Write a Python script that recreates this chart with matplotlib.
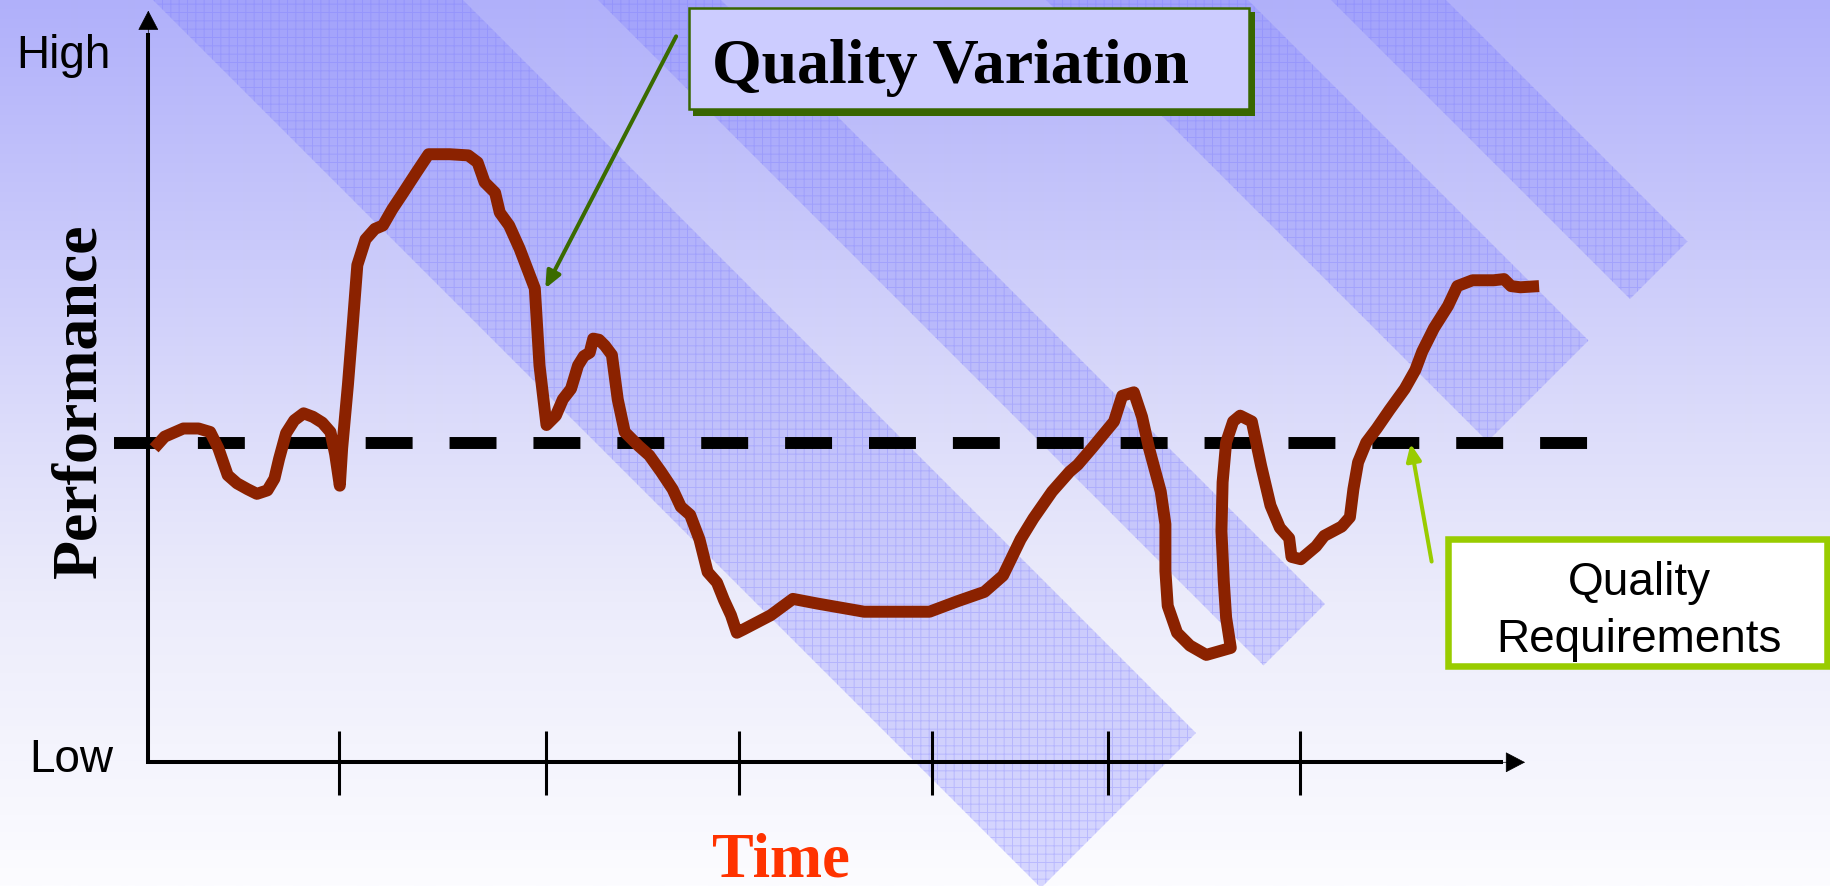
import numpy as np
import matplotlib
matplotlib.use("Agg")
import matplotlib.pyplot as plt
from matplotlib.patches import Polygon, Rectangle

plt.rcParams.update({
    "lines.scale_dashes": False,
    "hatch.linewidth": 0.7,
})

# ----------------------------------------------------------------
# Data: performance over time (chart units, origin at the axes corner)
# ----------------------------------------------------------------
time = [5, 14, 30, 43, 53, 60, 68, 76, 85, 93, 102, 108, 112, 118, 125, 133,
        141, 149, 156, 160, 164, 166, 171, 175, 179, 186, 194, 201, 209, 217,
        230, 240, 258, 274, 282, 288, 297, 301, 309, 318, 328, 331, 335, 341,
        349, 355, 362, 368, 373, 378, 381, 386, 391, 397, 402, 408, 420, 429,
        439, 449, 456, 464, 472, 479, 487, 493, 499, 504, 510, 533, 552, 573,
        613, 644, 669, 693, 716, 732, 747, 758, 774, 789, 796, 808, 827, 834,
        844, 851, 857, 867, 871, 871, 873, 881, 892, 906, 927, 923, 921, 919,
        920, 923, 929, 935, 945, 953, 961, 969, 977, 979, 987, 1000, 1007, 1022,
        1029, 1032, 1036, 1043, 1052, 1063, 1076, 1085, 1091, 1101, 1113, 1121,
        1134, 1152, 1161, 1167, 1175, 1191]
performance = [269, 279, 286, 286, 283, 269, 246, 239, 234, 230, 233, 243, 260,
               282, 293, 299, 296, 291, 283, 264, 237, 269, 324, 374, 426, 448,
               457, 460, 474, 486, 506, 521, 521, 520, 514, 497, 488, 471, 460,
               440, 414, 406, 340, 289, 297, 311, 320, 340, 348, 351, 363, 362,
               357, 349, 311, 283, 271, 263, 249, 234, 219, 212, 191, 163, 154,
               139, 126, 111, 114, 126, 140, 136, 129, 129, 129, 138, 146, 160,
               191, 209, 232, 249, 255, 269, 292, 314, 317, 296, 269, 232, 204,
               164, 134, 111, 100, 92, 98, 124, 155, 198, 240, 274, 292, 297,
               292, 254, 220, 201, 192, 176, 174, 185, 194, 202, 210, 234, 257,
               274, 286, 302, 320, 336, 352, 372, 391, 408, 413, 413, 414, 408,
               407, 408]

requirement_level = 274
requirement_span = [-29, 1238]
tick_times = [163, 341, 506, 671, 822, 986]

variation_target = (340, 406)
requirement_target = (1081, 273)

# ----------------------------------------------------------------
# Figure and slide background
# ----------------------------------------------------------------
W, H = 1831, 887
fig = plt.figure(figsize=(W / 100, H / 100), dpi=100)

bg = fig.add_axes([0, 0, 1, 1])
bg.set_xlim(0, W)
bg.set_ylim(H, 0)
bg.axis("off")

rows = np.linspace(0, 1, H)
rg = np.interp(rows, [0, 0.5, 0.68, 1.0], [176, 222, 236, 252])
bl = np.interp(rows, [0, 0.5, 0.68, 1.0], [250, 250, 251, 255])
grad = np.stack([rg, rg, bl], axis=-1)[:, None, :] / 255.0
bg.imshow(grad, extent=(0, W, H, 0), aspect="auto", interpolation="bilinear")

# diagonal decorative bands (x - y offsets of both edges, common end cap)
band_left = [152, 597, 1045, 1330]
band_right = [462, 720, 1247, 1445]
cap = 1930
for a, b in zip(band_left, band_right):
    pts = [(a - 40, -40), (b - 40, -40),
           ((b + cap) / 2, (cap - b) / 2), ((a + cap) / 2, (cap - a) / 2)]
    bg.add_patch(Polygon(pts, closed=True, facecolor=(0.52, 0.52, 1.0, 0.31),
                         edgecolor="none"))
    bg.add_patch(Polygon(pts, closed=True, facecolor="none",
                         edgecolor=(0.45, 0.45, 1.0, 0.28), linewidth=0,
                         hatch="++"))

# ----------------------------------------------------------------
# Chart layer
# ----------------------------------------------------------------
ax = fig.add_axes([0, 0, 1, 1])
ax.set_xlim(-127, 1441)
ax.set_ylim(-106, 654)
ax.axis("off")
ax.patch.set_alpha(0)

# quality requirement line
ax.plot(requirement_span, [requirement_level] * 2, color="black", lw=8.6,
        dashes=(33.8, 26.6), dash_capstyle="butt", zorder=2)

# axes with arrow heads
ax.plot([0, 0, 1160], [625, 0, 0], color="black", lw=2.9,
        solid_joinstyle="miter", solid_capstyle="butt", zorder=3)
head = "-|>,head_length=0.65,head_width=0.34"
ax.annotate("", xy=(0, 644), xytext=(0, 610),
            arrowprops=dict(arrowstyle=head, mutation_scale=20, lw=0.5,
                            color="black", shrinkA=0, shrinkB=0), zorder=3)
ax.annotate("", xy=(1179, 0), xytext=(1145, 0),
            arrowprops=dict(arrowstyle=head, mutation_scale=20, lw=0.5,
                            color="black", shrinkA=0, shrinkB=0), zorder=3)
ax.vlines(tick_times, -28, 27, color="black", lw=2.2, zorder=3)

# performance curve
ax.plot(time, performance, color="#8B2200", lw=8.6,
        solid_joinstyle="round", solid_capstyle="butt", zorder=5)

# axis labels
ax.text(-113, 596, "High", fontsize=33, family="Liberation Sans",
        ha="left", va="baseline")
ax.text(-102, -7.5, "Low", fontsize=33, family="Liberation Sans",
        ha="left", va="baseline")
ax.text(-45, 311, "Performance", fontsize=46, family="Liberation Serif",
        weight="bold", rotation=90, rotation_mode="anchor",
        ha="center", va="baseline")
ax.text(542, -97, "Time", fontsize=45, family="Liberation Serif",
        weight="bold", color="#FF3300", ha="center", va="baseline")

# "Quality Variation" callout
ax.add_patch(Rectangle((466.5, 554), 481.5, 89, facecolor="#386600",
                       edgecolor="none", zorder=6))
ax.add_patch(Rectangle((463, 560), 480, 86, facecolor="#CCCCFF",
                       edgecolor="#386600", lw=1.8, zorder=6))
ax.text(483, 583, "Quality Variation", fontsize=46, family="Liberation Serif",
        weight="bold", ha="left", va="baseline", zorder=7)
ax.annotate("", xy=variation_target, xytext=(452, 622),
            arrowprops=dict(arrowstyle="-|>,head_length=0.5,head_width=0.22",
                            mutation_scale=20, lw=2.9, color="#3A6B00",
                            shrinkA=0, shrinkB=0), zorder=6)

# "Quality Requirements" callout
ax.add_patch(Rectangle((1113, 82.8), 324.6, 108.8, facecolor="white",
                       edgecolor="#99CC00", lw=4.7, zorder=6))
ax.text(1276.6, 144, "Quality", fontsize=33, family="Liberation Sans",
        ha="center", va="baseline", zorder=7)
ax.text(1276.6, 95.4, "Requirements", fontsize=33, family="Liberation Sans",
        ha="center", va="baseline", zorder=7)
ax.annotate("", xy=requirement_target, xytext=(1099, 172),
            arrowprops=dict(arrowstyle="-|>,head_length=0.5,head_width=0.22",
                            mutation_scale=20, lw=2.9, color="#99CC00",
                            shrinkA=0, shrinkB=0), zorder=6)

fig.savefig("out.png", dpi=100)
